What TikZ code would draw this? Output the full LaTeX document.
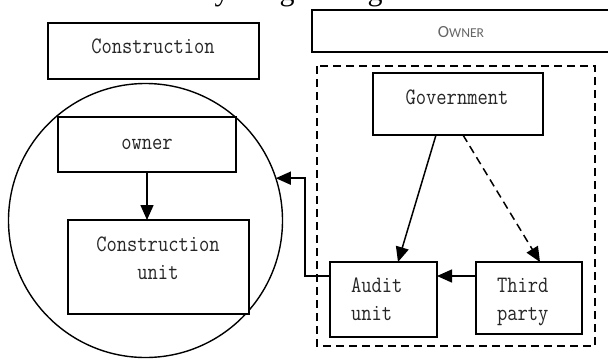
\documentclass[tikz,border=0pt]{standalone}
\usepackage{fontspec}
\usepackage{graphicx}
\usetikzlibrary{arrows.meta}
\newfontfamily\capsfont{Carlito}
\newfontfamily\titlefont{Liberation Serif}
\newcommand{\mtext}[2][c]{\scalebox{0.85}[1]{\fontsize{23.5}{28}\selectfont\ttfamily\begin{tabular}{@{}#1@{}}#2\end{tabular}}}
\tikzset{
  box/.style={draw, line width=1.5pt, fill=white, rectangle, inner sep=0pt, outer sep=0pt},
  lbl/.style={inner sep=0pt, outer sep=0pt, text=black!85},
  ttl/.style={anchor=base, inner sep=0pt, font=\titlefont\fontsize{30}{34}\selectfont},
  arr/.style={line width=1.5pt, -{Triangle[length=15pt,width=13pt]}},
  dsh/.style={line width=1.5pt, dash pattern=on 8pt off 5pt},
}
\begin{document}
\begin{tikzpicture}[x=1pt,y=-1pt]
\useasboundingbox (0,0) rectangle (608,360);
\clip (0,0) rectangle (608,360);
% cropped title (only descenders visible)
\node[ttl] (t1) at (222,0) {y};
\node[ttl] (t2) at (287,0) {g};
\node[ttl] (t3) at (375,0) {g};
% circle
\node[draw, circle, line width=1.4pt, minimum size=274pt, inner sep=0pt, outer sep=0pt] (c) at (145.5,220.5) {};
% boxes
\node[box, minimum width=211pt, minimum height=56pt] (con) at (153.5,51) {};
\node[lbl] (conl) at (153,48) {\mtext{Construction}};
\node[box, minimum width=300pt, minimum height=42pt, anchor=north west] (own) at (312,10) {};
\node[lbl, text=black!60] (ownl) at (461,32) {\capsfont\fontsize{17}{20}\selectfont O\fontsize{13.6}{16}\selectfont WNER};
\node[box, minimum width=178pt, minimum height=55pt] (ow) at (147,144.5) {};
\node[lbl] (owl) at (147,144) {\mtext{owner}};
\node[box, minimum width=181pt, minimum height=94pt] (cu) at (158.5,267) {};
\node[lbl] (cul) at (158,260) {\mtext{Construction\\unit}};
% dashed frame
\draw[dsh] (317,66) rectangle (595,346);
\node[box, minimum width=170pt, minimum height=62pt] (gov) at (458,104) {};
\node[lbl] (govl) at (457,99) {\mtext{Government}};
\node[box, minimum width=107pt, minimum height=75pt] (aud) at (383.5,299.5) {};
\node[lbl, anchor=west] (audl) at (351,300.5) {\mtext[l]{Audit\\unit}};
\node[box, minimum width=106pt, minimum height=72pt] (tp) at (529,298) {};
\node[lbl, anchor=west] (tpl) at (497,300.5) {\mtext[l]{Third\\party}};
% connectors
\draw[arr] (ow.south) -- (ow.south |- cu.north);
\draw[arr] ([xshift=-22pt]gov.south) -- ([xshift=14.5pt]aud.north);
\draw[arr, dash pattern=on 8pt off 5pt] ([xshift=5pt]gov.south) -- ([xshift=11pt]tp.north);
\draw[arr] ([yshift=22pt]tp.west) coordinate (p1) -- (aud.east |- p1);
\draw[arr] ([yshift=23.5pt]aud.west) -- ++(-25pt,0) |- (c.18.5);
\end{tikzpicture}
\end{document}
